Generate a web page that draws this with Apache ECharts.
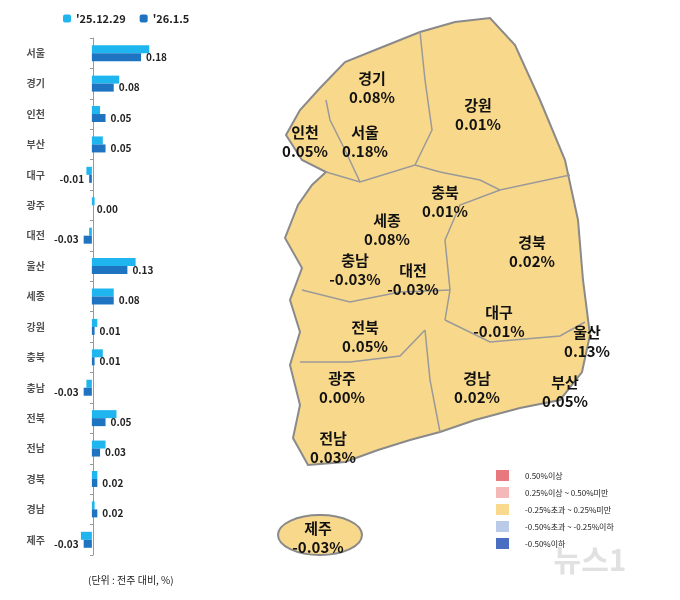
<!DOCTYPE html>
<html><head><meta charset="utf-8">
<script src="https://cdn.jsdelivr.net/npm/echarts@6/dist/echarts.min.js"></script>
<style>html,body{margin:0;padding:0;background:#fff}#main{width:680px;height:600px}</style>
</head><body><div id="main"></div>
<script>
// 지역별 주간 아파트 매매가격 변동률
var regions = ['서울','경기','인천','부산','대구','광주','대전','울산','세종','강원','충북','충남','전북','전남','경북','경남','제주'];
var prevWeek = [0.21, 0.10, 0.03, 0.04, -0.02, 0.01, -0.01, 0.16, 0.08, 0.02, 0.04, -0.02, 0.09, 0.05, 0.02, 0.01, -0.04];
var thisWeek = [0.18, 0.08, 0.05, 0.05, -0.01, 0.00, -0.03, 0.13, 0.08, 0.01, 0.01, -0.03, 0.05, 0.03, 0.02, 0.02, -0.03];

// 지도 라벨 위치 (지역명, x, y)
var mapLabels = [
    ['경기',372,88],['강원',478,115],['인천',305,142],['서울',365,142],['충북',445,202],
    ['세종',387,230],['경북',532,252],['충남',355,270],['대전',413,280],['대구',499,322],
    ['울산',587,342],['전북',365,337],['광주',342,388],['경남',477,388],['부산',565,392],
    ['전남',333,448],['제주',318,538]
];
var legendItems = [['#E8787D','0.50%이상'],['#F4B8B8','0.25%이상 ~ 0.50%미만'],['#F9D98E','-0.25%초과 ~ 0.25%미만'],['#B9CBE8','-0.50%초과 ~ -0.25%이하'],['#4A6FC2','-0.50%이하']];

var myChart = echarts.init(document.getElementById('main'));

var graphics = [];
// 대략적인 한반도 남쪽 윤곽
graphics.push({
    type: 'polygon', z: 1,
    shape: { points: [[320,88],[345,62],[380,48],[420,32],[455,22],[490,18],[515,45],[540,100],[565,160],[578,220],[583,280],[590,335],[582,372],[560,400],[520,408],[475,420],[440,432],[410,440],[378,450],[345,462],[308,465],[293,438],[300,405],[290,365],[300,332],[290,300],[302,268],[285,238],[298,205],[312,185],[326,172],[302,160],[286,135],[300,110]] },
    style: { fill: '#F8D88A', stroke: '#8A8A8A', lineWidth: 2 }
});
// 시도 경계(대략)
var borders = [
    [[420,32],[425,80],[432,130],[415,165]],
    [[326,172],[360,182],[415,165],[440,172]],
    [[440,172],[480,180],[500,190],[570,175]],
    [[500,190],[460,205],[445,240],[450,290],[445,320]],
    [[302,290],[350,302],[400,292],[450,290]],
    [[300,362],[350,362],[400,356],[425,330]],
    [[445,320],[490,342],[560,336],[585,322]],
    [[425,330],[430,380],[440,432]],
    [[360,182],[345,150],[330,120],[326,100]]
];
borders.forEach(function (b) {
    graphics.push({ type: 'polyline', z: 2, shape: { points: b }, style: { stroke: '#9A9A9A', lineWidth: 1.5, fill: null } });
});
graphics.push({
    type: 'ellipse', z: 1,
    shape: { cx: 320, cy: 535, rx: 42, ry: 20 },
    style: { fill: '#F8D88A', stroke: '#8A8A8A', lineWidth: 2 }
});
mapLabels.forEach(function (m) {
    var v = thisWeek[regions.indexOf(m[0])];
    graphics.push({
        type: 'text', z: 5, x: m[1], y: m[2],
        style: { text: m[0] + '\n' + v.toFixed(2) + '%', align: 'center', verticalAlign: 'middle',
                 font: 'bold 15px "Noto Sans CJK KR"', lineHeight: 19, fill: '#111' }
    });
});
legendItems.forEach(function (l, i) {
    graphics.push({ type: 'rect', z: 5, shape: { x: 496, y: 470 + i * 17, width: 13, height: 11 }, style: { fill: l[0] } });
    graphics.push({ type: 'text', z: 5, x: 525, y: 476 + i * 17,
        style: { text: l[1], font: '8px "Noto Sans CJK KR"', verticalAlign: 'middle', fill: '#222' } });
});
graphics.push({ type: 'text', z: 5, x: 88, y: 575,
    style: { text: '(단위 : 전주 대비, %)', font: '10px "Noto Sans CJK KR"', fill: '#222' } });
graphics.push({ type: 'text', z: 5, x: 590, y: 560,
    style: { text: '뉴스1', font: 'bold 30px "Noto Sans CJK KR"', fill: 'rgba(170,170,170,0.35)', align: 'center', verticalAlign: 'middle' } });

var option = {
    backgroundColor: '#fff',
    textStyle: { fontFamily: '"Noto Sans CJK KR"' },
    legend: {
        data: ["'25.12.29", "'26.1.5"], top: 8, left: 58, itemWidth: 8, itemHeight: 8, itemGap: 14,
        textStyle: { fontSize: 11, fontWeight: 'bold', color: '#222' }
    },
    grid: { left: 70, width: 82, top: 38, bottom: 45 },
    xAxis: { type: 'value', min: -0.08, max: 0.22, show: false },
    yAxis: {
        type: 'category', data: regions, inverse: true,
        position: 'left', offset: -23,
        axisLine: { show: true, lineStyle: { color: '#999' } },
        axisTick: { show: true, length: 3, lineStyle: { color: '#999' } },
        axisLabel: { show: false }
    },
    series: [{
        name: "'25.12.29", type: 'bar', data: prevWeek, barWidth: 8, barGap: '0%',
        itemStyle: { color: '#1FB5EE' }
    }, {
        name: "'26.1.5", type: 'bar', data: thisWeek, barWidth: 8,
        itemStyle: { color: '#1F74C2' },
        label: {
            show: true, fontSize: 10, fontWeight: 'bold', color: '#222',
            position: 'right', formatter: function (p) { return p.value.toFixed(2); }
        }
    }, {
        // 지역명 라벨
        type: 'scatter', data: regions.map(function () { return -0.08; }), symbolSize: 0,
        label: { show: true, position: 'left', distance: 25, formatter: function (p) { return p.name; },
                 fontSize: 10, fontWeight: 'bold', color: '#222' },
        silent: true
    }],
    graphic: graphics
};
// 음수는 왼쪽에 라벨
option.series[1].data = thisWeek.map(function (v) {
    return v < 0 ? { value: v, label: { position: 'left' } } : v;
});
myChart.setOption(option);
</script></body></html>
